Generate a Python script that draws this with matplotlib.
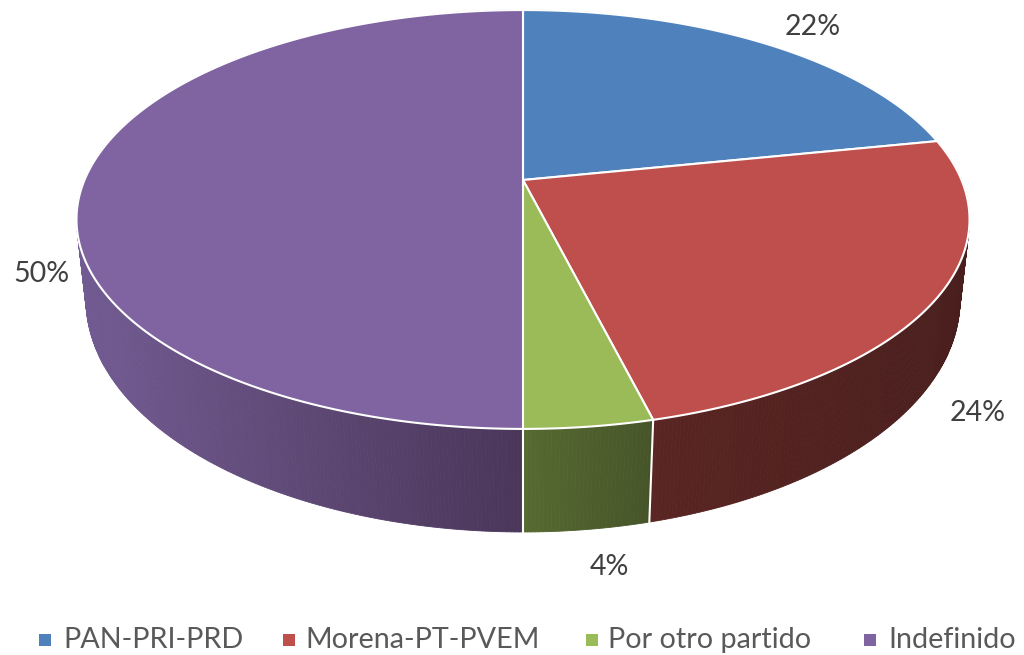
import matplotlib
matplotlib.use("Agg")
import matplotlib.pyplot as plt
import numpy as np
from matplotlib.patches import Polygon, Rectangle

partidos = ["PAN-PRI-PRD", "Morena-PT-PVEM", "Por otro partido", "Indefinido"]
valores = [21.8, 24.3, 3.9, 50]
colores = ["#4f81bd", "#be4f4c", "#9bbb59", "#8064a2"]
# side wall shade, left end and right end
pared_izq = ["#2f4d71", "#5a2522", "#566a31", "#725b92"]
pared_der = ["#2f4d71", "#491f1e", "#465529", "#4a3659"]

pos_etiquetas = [(813, 27), (978, 413), (609, 567), (41, 274)]
pos_leyenda = [(39, 63), (283, 305), (586, 608), (864, 888)]

plt.rcParams["font.family"] = ["Lato", "DejaVu Sans"]
fig = plt.figure(figsize=(10.24, 6.55), dpi=100)
ax = fig.add_axes([0, 0, 1, 1])
ax.set_xlim(0, 1024)
ax.set_ylim(655, 0)
ax.axis("off")


# perspective view of the disc, t clockwise from the top
def tapa(t):
    u, v = np.sin(t), np.cos(t)
    w = 1 + 0.1885 * v
    return 523 + 438.5 * u / w, 180 - 202 * v / w


def base(t):
    u, v = np.sin(t), np.cos(t)
    w = 1 + 0.18 * v
    return 523 + 429.8 * u / w, 258.2 - 224.5 * v / w


fracs = np.cumsum([0] + valores) / sum(valores) * 2 * np.pi

# side wall, back to front
quads = []
for i in range(len(valores)):
    ts = np.linspace(fracs[i], fracs[i + 1], int(valores[i] * 8) + 2)
    xs = np.array([tapa(t)[0] for t in ts])
    lo, hi = xs.min(), xs.max()
    c0 = np.array(matplotlib.colors.to_rgb(pared_izq[i]))
    c1 = np.array(matplotlib.colors.to_rgb(pared_der[i]))
    for a, b in zip(ts[:-1], ts[1:]):
        f = (tapa((a + b) / 2)[0] - lo) / (hi - lo)
        quads.append((np.cos((a + b) / 2), a, b, c0 + (c1 - c0) * f))
quads.sort(key=lambda q: -q[0])
for _, a, b, c in quads:
    ax.add_patch(Polygon([tapa(a), tapa(b), base(b), base(a)], closed=True,
                         facecolor=c, edgecolor=c, linewidth=0.6, zorder=2))

# seams on the front of the wall
for t in fracs[2:4]:
    p, q = tapa(t), base(t)
    ax.plot([p[0], q[0]], [p[1], q[1]], color="white", lw=1.5, zorder=3)

# top of the pie
for i in range(len(valores)):
    ts = np.linspace(fracs[i], fracs[i + 1], 200)
    pts = [(523, 180)] + [tapa(t) for t in ts]
    ax.add_patch(Polygon(pts, closed=True, facecolor=colores[i], edgecolor="white",
                         linewidth=1.5, joinstyle="round", zorder=4))

for v, (x, y) in zip(valores, pos_etiquetas):
    ax.text(x, y, f"{round(v)}%", ha="center", va="center", fontsize=20.5, color="#404040", zorder=5)

for nombre, c, (xm, xt) in zip(partidos, colores, pos_leyenda):
    ax.add_patch(Rectangle((xm, 634), 12, 12, facecolor=c, edgecolor="none"))
    ax.text(xt, 640, nombre, ha="left", va="center", fontsize=20.7, color="#595959")

fig.savefig("out.png", dpi=100)
